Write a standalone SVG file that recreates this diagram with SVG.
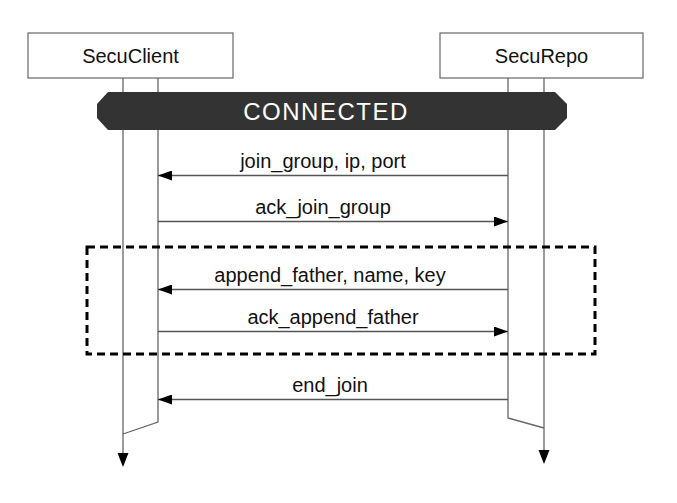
<svg xmlns="http://www.w3.org/2000/svg" width="677" height="503" viewBox="0 0 677 503">
<style>
  .box{fill:#fff;stroke:#666;stroke-width:1.2}
  .life{fill:none;stroke:#666;stroke-width:1.3}
  .msg{fill:none;stroke:#555;stroke-width:1.3}
  .lbl{font-family:"Liberation Sans",Arial,sans-serif;font-size:20px;fill:#111;text-anchor:middle}
  .head{fill:#000}
</style>
<defs>
  <marker id="arr" viewBox="0 0 14 10" refX="14" refY="5" markerWidth="14" markerHeight="10" markerUnits="userSpaceOnUse" orient="auto">
    <path d="M0,0 L14,5 L0,10 Z" fill="#000"/>
  </marker>
</defs>
<rect width="677" height="503" fill="#fff"/>
<g id="lifelines">
  <path class="life" d="M123,78 V455"/>
  <path class="life" d="M158,78 V422 L123,434"/>
  <path class="life" d="M508,78 V418 L544,428"/>
  <path class="life" d="M544,78 V452"/>
  <path class="head" d="M117.5,453 L128.5,453 L123,467 Z"/>
  <path class="head" d="M538.5,450 L549.5,450 L544,464 Z"/>
</g>
<g id="SecuClient">
  <rect class="box" x="28" y="33" width="205" height="45"/>
  <text class="lbl" x="130.5" y="63">SecuClient</text>
</g>
<g id="SecuRepo">
  <rect class="box" x="440" y="33" width="203" height="45"/>
  <text class="lbl" x="541.5" y="63">SecuRepo</text>
</g>
<g id="connected">
  <path d="M108,92 L555,92 L567,104 L567,118 L555,130 L108,130 L97,118 L97,104 Z" fill="#333"/>
  <text x="326" y="120" font-family="'Liberation Sans',Arial,sans-serif" font-size="24" letter-spacing="1.5" fill="#fff" text-anchor="middle">CONNECTED</text>
</g>
<g id="group-box">
  <rect x="87" y="247" width="508" height="107" fill="none" stroke="#000" stroke-width="3" stroke-dasharray="8 5"/>
</g>
<g id="connectors">
  <line class="msg" x1="508" y1="175.5" x2="158" y2="175.5" marker-end="url(#arr)"/>
  <line class="msg" x1="158" y1="221.5" x2="508" y2="221.5" marker-end="url(#arr)"/>
  <line class="msg" x1="508" y1="289.5" x2="158" y2="289.5" marker-end="url(#arr)"/>
  <line class="msg" x1="158" y1="331.5" x2="508" y2="331.5" marker-end="url(#arr)"/>
  <line class="msg" x1="508" y1="399.5" x2="158" y2="399.5" marker-end="url(#arr)"/>
  <text class="lbl" x="323" y="168">join_group, ip, port</text>
  <text class="lbl" x="323" y="214">ack_join_group</text>
  <text class="lbl" x="330" y="282">append_father, name, key</text>
  <text class="lbl" x="333" y="324">ack_append_father</text>
  <text class="lbl" x="330" y="392">end_join</text>
</g>
</svg>
